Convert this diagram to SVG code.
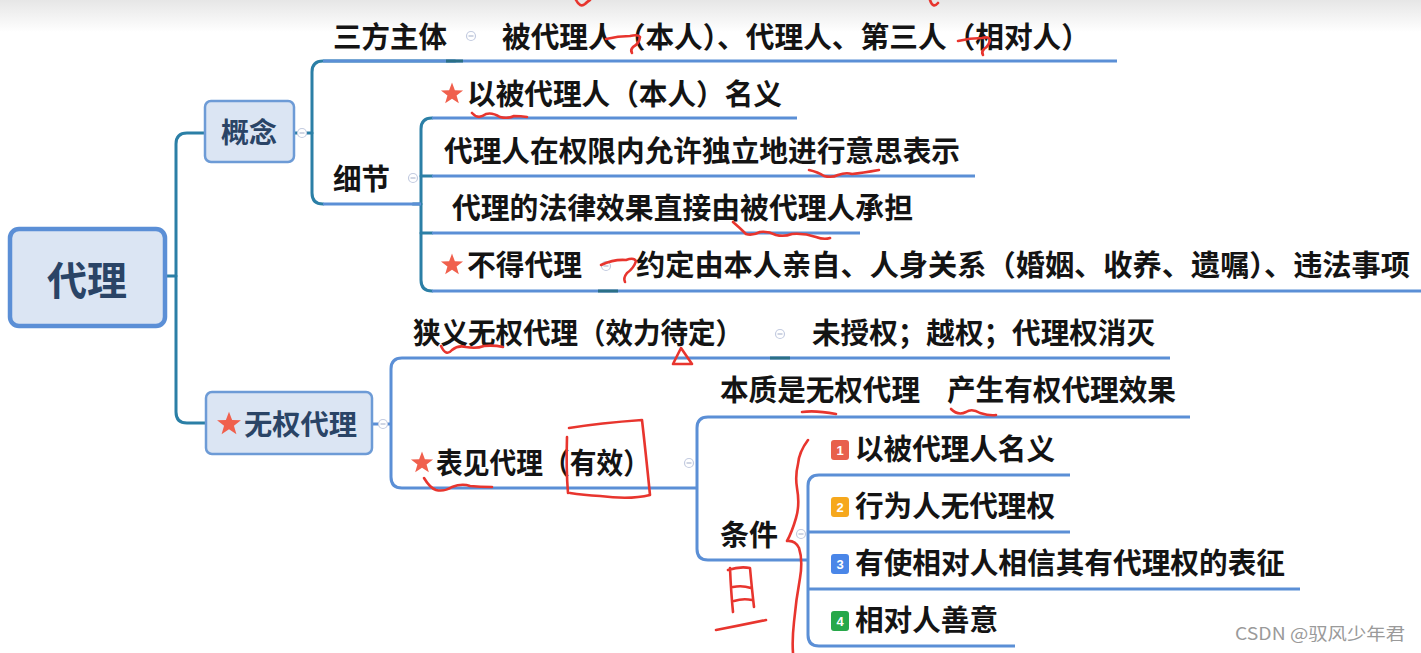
<svg xmlns="http://www.w3.org/2000/svg" width="1421" height="653" viewBox="0 0 1421 653">
<defs>
<linearGradient id="topfade" x1="0" y1="0" x2="0" y2="1">
<stop offset="0" stop-color="#e6e6e6"/>
<stop offset="1" stop-color="#ffffff"/>
</linearGradient>
<symbol id="star" viewBox="-10 -10 20 20" overflow="visible">
<polygon points="0,-9.5 2.4,-3.1 9.2,-2.9 3.8,1.3 5.7,7.8 0,4 -5.7,7.8 -3.8,1.3 -9.2,-2.9 -2.4,-3.1" fill="#f0604d"/>
</symbol>
<style>
.t{font-family:"Noto Sans CJK SC","Noto Sans",sans-serif;font-weight:bold;fill:#141414;font-size:29px}
.nt{font-family:"Noto Sans CJK SC","Noto Sans",sans-serif;font-weight:bold;fill:#2a4466}
.ul{stroke:#5b8fd6;stroke-width:3;fill:none}
.cn{stroke:#2b7fa6;stroke-width:3;fill:none;stroke-linecap:round}
.cn2{stroke:#5b8fd6;stroke-width:3;fill:none}
.jt{stroke:#2a6f86;stroke-width:3;fill:none}
.box{fill:#dbe5f3;stroke:#6d9bd6;stroke-width:2.5}
.coll{fill:#ffffff;stroke:#c3cbe0;stroke-width:1.2}
.collm{stroke:#b0bad0;stroke-width:1.2}
.ink{stroke:#e8352e;stroke-width:2.6;fill:none;stroke-linecap:round;stroke-linejoin:round}
.bn{font-family:"Liberation Sans",sans-serif;font-size:13px;font-weight:bold;fill:#ffffff}
</style>
</defs>
<rect x="0" y="0" width="1421" height="653" fill="#ffffff"/>
<rect x="0" y="0" width="1421" height="32" fill="url(#topfade)"/>

<g id="connectors">
<path class="cn" d="M166,276 H176"/>
<path class="cn" d="M204,133 H187 Q176,133 176,144 V412 Q176,423 187,423 H205"/>
<path class="cn" d="M294,133 H312"/>
<path class="cn" d="M455,61 H323 Q312,61 312,72 V193 Q312,204 323,204"/>
<path class="cn" d="M413,204 H421"/>
<path class="cn" d="M432,118 Q421,118 421,129 V280 Q421,291 432,291"/>
<path class="cn" d="M421,176 H432 M421,233 H432"/>
<path class="cn2" d="M373,424 H391"/>
<path class="cn2" d="M402,358 Q391,358 391,369 V477 Q391,488 402,488"/>
<path class="cn2" d="M708,417 Q697,417 697,428 V549 Q697,560 708,560"/>
<path class="cn2" d="M819,475 Q808,475 808,486 V635 Q808,646 819,646"/>
<path class="cn2" d="M808,532 H819 M808,589 H819"/>
</g>

<g id="underlines">
<path class="ul" d="M323,61 H455"/>
<path class="ul" d="M455,61 H1117"/>
<path class="ul" d="M323,204 H421"/>
<path class="ul" d="M432,118 H797"/>
<path class="ul" d="M432,176 H975"/>
<path class="ul" d="M432,233 H860"/>
<path class="ul" d="M432,291 H606"/>
<path class="ul" d="M606,291 H1421"/>
<path class="ul" d="M402,358 H778"/>
<path class="ul" d="M778,358 H1170"/>
<path class="ul" d="M402,488 H697"/>
<path class="ul" d="M708,417 H1190"/>
<path class="ul" d="M708,560 H808"/>
<path class="ul" d="M819,475 H1070"/>
<path class="ul" d="M819,532 H1070"/>
<path class="ul" d="M819,589 H1300"/>
<path class="ul" d="M819,646 H1015"/>
<path class="jt" d="M446,61 H463 M598,291 H618 M770,358 H790"/>
</g>

<g id="node-root">
<rect x="10" y="229" width="155" height="97" rx="9" fill="#dbe5f3" stroke="#5b8fd6" stroke-width="4.5"/>
<text class="nt" x="87" y="295" font-size="40" text-anchor="middle">代理</text>
</g>

<g id="node-gainian">
<rect class="box" x="205" y="101" width="89" height="61" rx="6"/>
<text class="nt" x="249" y="143" font-size="28" text-anchor="middle">概念</text>
<circle class="coll" cx="302" cy="133" r="4.5"/><path class="collm" d="M299.5,133 H304.5"/>
</g>

<g id="node-wuquan">
<rect class="box" x="206" y="392" width="166" height="62" rx="6"/>
<use href="#star" x="216" y="411" width="26" height="26"/>
<text class="nt" x="244" y="435" font-size="28" textLength="113" lengthAdjust="spacingAndGlyphs">无权代理</text>
<circle class="coll" cx="383" cy="424" r="4.5"/><path class="collm" d="M380.5,424 H385.5"/>
</g>

<g id="node-sanfang">
<text class="t" x="333" y="48" textLength="114" lengthAdjust="spacingAndGlyphs">三方主体</text>
<circle class="coll" cx="471" cy="36" r="4.5"/><path class="collm" d="M468.5,36 H473.5"/>
</g>
<g id="node-sanfang-c">
<text class="t" x="502" y="48" textLength="588" lengthAdjust="spacingAndGlyphs">被代理人（本人）、代理人、第三人（相对人）</text>
</g>

<g id="node-xijie">
<text class="t" x="333" y="190" textLength="57" lengthAdjust="spacingAndGlyphs">细节</text>
<circle class="coll" cx="413" cy="178" r="4.5"/><path class="collm" d="M410.5,178 H415.5"/>
</g>
<g id="node-x1">
<use href="#star" x="440" y="82" width="24" height="24"/>
<text class="t" x="467" y="105" textLength="315" lengthAdjust="spacingAndGlyphs">以被代理人（本人）名义</text>
</g>
<g id="node-x2">
<text class="t" x="444" y="162" textLength="516" lengthAdjust="spacingAndGlyphs">代理人在权限内允许独立地进行意思表示</text>
</g>
<g id="node-x3">
<text class="t" x="452" y="219" textLength="461" lengthAdjust="spacingAndGlyphs">代理的法律效果直接由被代理人承担</text>
</g>
<g id="node-x4">
<use href="#star" x="440" y="253" width="24" height="24"/>
<text class="t" x="467" y="276" textLength="115" lengthAdjust="spacingAndGlyphs">不得代理</text>
<circle class="coll" cx="606" cy="266" r="4.5"/><path class="collm" d="M603.5,266 H608.5"/>
</g>
<g id="node-x4c">
<text class="t" x="636" y="276" textLength="774" lengthAdjust="spacingAndGlyphs">约定由本人亲自、人身关系（婚姻、收养、遗嘱）、违法事项</text>
</g>

<g id="node-xiayi">
<text class="t" x="413" y="344" textLength="330" lengthAdjust="spacingAndGlyphs">狭义无权代理（效力待定）</text>
<circle class="coll" cx="780" cy="334" r="4.5"/><path class="collm" d="M777.5,334 H782.5"/>
</g>
<g id="node-xiayi-c">
<text class="t" x="812" y="344" textLength="343" lengthAdjust="spacingAndGlyphs">未授权；越权；代理权消灭</text>
</g>

<g id="node-biaojian">
<use href="#star" x="410" y="451" width="24" height="24"/>
<text class="t" x="436" y="474" textLength="214" lengthAdjust="spacingAndGlyphs">表见代理（有效）</text>
<circle class="coll" cx="689" cy="463" r="4.5"/><path class="collm" d="M686.5,463 H691.5"/>
</g>
<g id="node-benzhi">
<text class="t" y="401"><tspan x="720" textLength="200" lengthAdjust="spacingAndGlyphs">本质是无权代理</tspan><tspan x="947" textLength="229" lengthAdjust="spacingAndGlyphs">产生有权代理效果</tspan></text>
</g>
<g id="node-tiaojian">
<text class="t" x="720" y="546" textLength="58" lengthAdjust="spacingAndGlyphs">条件</text>
<circle class="coll" cx="801" cy="534" r="4.5"/><path class="collm" d="M798.5,534 H803.5"/>
</g>
<g id="node-c1">
<rect x="831" y="440" width="18" height="20" rx="3" fill="#e8604c"/>
<text class="bn" x="840" y="455" text-anchor="middle">1</text>
<text class="t" x="855" y="460" textLength="200" lengthAdjust="spacingAndGlyphs">以被代理人名义</text>
</g>
<g id="node-c2">
<rect x="831" y="497" width="18" height="20" rx="3" fill="#f6a81d"/>
<text class="bn" x="840" y="512" text-anchor="middle">2</text>
<text class="t" x="855" y="517" textLength="200" lengthAdjust="spacingAndGlyphs">行为人无代理权</text>
</g>
<g id="node-c3">
<rect x="831" y="554" width="18" height="20" rx="3" fill="#4a86e8"/>
<text class="bn" x="840" y="569" text-anchor="middle">3</text>
<text class="t" x="855" y="574" textLength="430" lengthAdjust="spacingAndGlyphs">有使相对人相信其有代理权的表征</text>
</g>
<g id="node-c4">
<rect x="831" y="611" width="18" height="20" rx="3" fill="#27a84a"/>
<text class="bn" x="840" y="626" text-anchor="middle">4</text>
<text class="t" x="855" y="631" textLength="143" lengthAdjust="spacingAndGlyphs">相对人善意</text>
</g>

<g id="annotations">
<path class="ink" d="M576,0 Q580,8 585,4 Q588,1 590,0"/>
<path class="ink" d="M930,0 Q933,9 938,3"/>
<path class="ink" d="M606,39 Q618,36 630,36 Q638,34 640,37 Q639,44 633,47 Q630,50 632,53"/>
<path class="ink" d="M958,41 Q970,38 982,38 Q989,36 990,40 Q989,46 984,49 Q981,52 983,55"/>
<path class="ink" d="M472,113 Q478,120 486,114 Q492,112 500,117 Q508,119 514,116 Q521,116 527,117"/>
<path class="ink" d="M809,170 Q818,172 824,176 Q832,178 838,175 Q846,172 852,174 Q862,173 879,170"/>
<path class="ink" d="M733,222 Q740,228 746,234 Q752,236 760,232 Q768,231 776,235 Q784,237 792,234 Q804,233 816,237 Q824,240 830,238"/>
<path class="ink" d="M601,265 Q614,259 626,260 Q634,257 636,261 Q634,268 627,273 Q623,278 625,282"/>
<path class="ink" d="M441,346 Q446,357 452,350 Q458,345 466,347 Q476,349 484,346 Q494,345 503,347"/>
<path class="ink" d="M681,348 L673,364 L692,364 Z"/>
<path class="ink" d="M424,478 Q430,488 436,490 Q444,492 452,487 Q462,483 470,486 Q480,487 492,487"/>
<path class="ink" d="M569,428 Q600,423 642,420 Q646,455 650,495 Q630,500 600,496 Q583,495 570,493 M567,437 Q566,470 568,493"/>
<path class="ink" d="M802,412 Q815,410 836,414"/>
<path class="ink" d="M951,409 Q958,416 966,412 Q972,408 980,413 Q990,416 996,415"/>
<path class="ink" d="M808,440 Q799,452 798,464 Q795,476 797,488 Q800,505 796,518 Q792,532 787,541 Q795,540 799,548 Q803,560 800,578 Q796,600 794,622 Q792,640 793,653"/>
<path class="ink" d="M730,568 Q731,592 733,612 M728,570 Q740,566 750,568 Q752,590 754,607 M733,587 Q742,585 751,588 M734,601 Q743,598 752,600 M716,630 Q742,625 766,620"/>
</g>

<g id="watermark">
<text x="1235" y="640" font-family="'Noto Sans CJK SC','Liberation Sans',sans-serif" font-size="17" fill="#9a9a9a" textLength="170" lengthAdjust="spacingAndGlyphs">CSDN @驭风少年君</text>
</g>
</svg>
